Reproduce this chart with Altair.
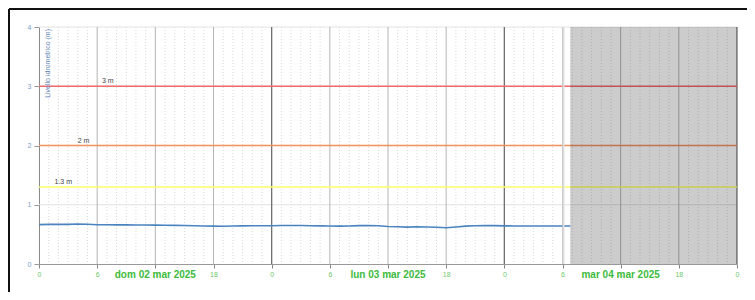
import altair as alt
import pandas as pd

# ---- data ----
hours = [0, 1, 2, 3, 4, 5, 6, 7, 8, 9, 10, 11, 12, 13, 14, 15, 16, 17, 18, 19,
         20, 21, 22, 23, 24, 25, 26, 27, 28, 29, 30, 31, 32, 33, 34, 35, 36, 37,
         38, 39, 40, 41, 42, 43, 44, 45, 46, 47, 48, 49, 50, 51, 52, 53, 54, 54.8]
level = [0.665, 0.668, 0.672, 0.668, 0.674, 0.670, 0.663, 0.662, 0.660, 0.662,
         0.659, 0.657, 0.656, 0.655, 0.652, 0.650, 0.645, 0.641, 0.640, 0.638,
         0.641, 0.643, 0.645, 0.646, 0.645, 0.649, 0.651, 0.650, 0.646, 0.643,
         0.641, 0.640, 0.642, 0.648, 0.650, 0.645, 0.632, 0.628, 0.622, 0.628,
         0.624, 0.620, 0.612, 0.625, 0.640, 0.645, 0.648, 0.647, 0.644, 0.642,
         0.641, 0.641, 0.641, 0.641, 0.641, 0.641]

thr_values = [3, 2, 1.3]
thr_labels = ["3 m", "2 m", "1.3 m"]
thr_label_hours = [7.1, 4.6, 2.5]
thr_colors = ["#f26b6b", "#f4905c", "#ffff66"]

tick_hours = list(range(0, 73, 6))
minor_hours = [h for h in range(73) if h % 6]
six_hours = [h for h in range(6, 73, 6) if h % 24]
day_hours = [24, 48, 72]
day_label_hours = [12, 36, 60]
day_labels = ["dom 02 mar 2025", "lun 03 mar 2025", "mar 04 mar 2025"]
y_ticks = [0, 1, 2, 3, 4]
y_grid = [1, 2, 3, 4]
forecast_start = [54.8]
forecast_end = [72]
now_hour = [54.1]
y_title = "Livello idrometrico (m)"

W, H = 698, 237
FONT = "Liberation Sans"

xs = alt.Scale(domain=[0, 72], nice=False, zero=False)
ys = alt.Scale(domain=[0, 4], nice=False, zero=True)

series = pd.DataFrame({"h": hours, "v": level})
thr = pd.DataFrame({"v": thr_values, "lab": thr_labels, "lh": thr_label_hours, "c": thr_colors})
one = pd.DataFrame({"t": [y_title]})

x_axis = alt.Axis(values=tick_hours, labelExpr="datum.value % 24", grid=False,
                  domainColor="#999999", tickColor="#888888", tickSize=4,
                  labelFontSize=7, labelFont=FONT,
                  labelColor={"condition": {"test": "datum.value % 24 == 12", "value": "#cfe9cf"},
                              "value": "#6cc86c"},
                  labelPadding=2, labelFlush=False, labelOverlap=False, title=None)
y_axis = alt.Axis(values=y_ticks, format="d", grid=False, domainColor="#888888", tickColor="#999999",
                  tickSize=5, labelFontSize=7, labelFont=FONT, labelColor="#7d9ccc",
                  labelPadding=3, title=None)

minor = alt.Chart(pd.DataFrame({"h": minor_hours})).mark_rule(
    color="#d9d9d9", strokeDash=[1, 2], strokeWidth=1).encode(
    x=alt.X("h:Q", scale=xs, axis=x_axis))
hgrid = alt.Chart(pd.DataFrame({"v": y_grid})).mark_rule(color="#e2e2e2", strokeWidth=1).encode(
    y=alt.Y("v:Q", scale=ys, axis=y_axis))
six = alt.Chart(pd.DataFrame({"h": six_hours})).mark_rule(color="#b4b4b4", strokeWidth=1).encode(
    x=alt.X("h:Q", scale=xs))
days = alt.Chart(pd.DataFrame({"h": day_hours})).mark_rule(color="#6e6e6e", strokeWidth=1.3).encode(
    x=alt.X("h:Q", scale=xs))

thr_lines = alt.Chart(thr).mark_rule(strokeWidth=1.6).encode(
    y=alt.Y("v:Q", scale=ys), color=alt.Color("c:N", scale=None))
thr_text = alt.Chart(thr).mark_text(fontSize=7, font=FONT, color="#444444",
                                    baseline="bottom", dy=-2).encode(
    x=alt.X("lh:Q", scale=xs), y=alt.Y("v:Q", scale=ys), text="lab:N")

line = alt.Chart(series).mark_line(color="#4a84c0", strokeWidth=1.6).encode(
    x=alt.X("h:Q", scale=xs), y=alt.Y("v:Q", scale=ys))

now_rule = alt.Chart(pd.DataFrame({"h": now_hour})).mark_rule(color="#dedede", strokeWidth=2).encode(
    x=alt.X("h:Q", scale=xs))
shade = alt.Chart(pd.DataFrame({"a": forecast_start, "b": forecast_end})).mark_rect(
    color="#000000", opacity=0.2).encode(
    x=alt.X("a:Q", scale=xs), x2="b:Q", y=alt.value(0), y2=alt.value(H))

day_text = alt.Chart(pd.DataFrame({"h": day_label_hours, "lab": day_labels})).mark_text(
    fontSize=10, font=FONT, fontWeight="bold", color="#3dbb3d", baseline="alphabetic").encode(
    x=alt.X("h:Q", scale=xs), y=alt.value(H + 13.5), text="lab:N")

title_text = alt.Chart(one).mark_text(fontSize=7, font=FONT, color="#6688bb", angle=270,
                                      align="right", baseline="top").encode(
    x=alt.value(5), y=alt.value(2), text="t:N")

frame_left = alt.Chart(one).mark_rule(color="#111111", strokeWidth=2).encode(
    x=alt.value(-30), y=alt.value(-18), y2=alt.value(H + 60))
frame_top = alt.Chart(one).mark_rule(color="#111111", strokeWidth=2).encode(
    y=alt.value(-18), x=alt.value(-30), x2=alt.value(W + 40))

chart = alt.layer(
    minor, hgrid, six, days, thr_lines, thr_text, line, now_rule, shade,
    day_text, title_text, frame_left, frame_top
).properties(
    width=W, height=H,
    autosize=alt.AutoSizeParams(type="none"),
    padding={"left": 31, "top": 19, "right": 10, "bottom": 28},
    background="white",
).configure_view(stroke=None)

chart.save("out.html", embed_options={"renderer": "svg", "actions": False})
